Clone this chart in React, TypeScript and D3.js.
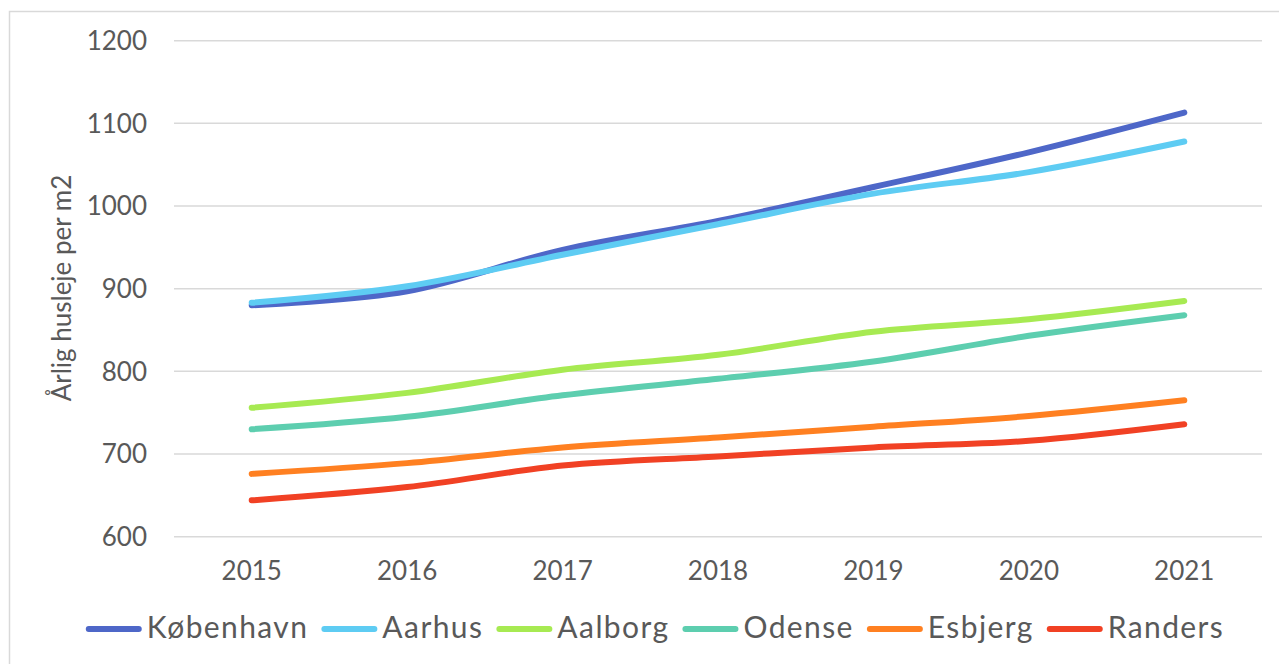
import React from "react";
import * as d3 from "d3";

const years = ["2015", "2016", "2017", "2018", "2019", "2020", "2021"];
const yTicks = [600, 700, 800, 900, 1000, 1100, 1200];

const kobenhavn = [880, 897, 947, 982, 1023, 1065, 1113];
const aarhus = [883, 903, 941, 978, 1015, 1041, 1078];
const aalborg = [756, 774, 802, 820, 848, 863, 885];
const odense = [730, 745, 771, 791, 812, 843, 868];
const esbjerg = [676, 689, 708, 720, 733, 746, 765];
const randers = [644, 660, 686, 697, 708, 716, 736];

const seriesNames = ["København", "Aarhus", "Aalborg", "Odense", "Esbjerg", "Randers"];
const seriesValues = [kobenhavn, aarhus, aalborg, odense, esbjerg, randers];
const seriesColors = ["#4E67C8", "#5ECCF3", "#A7EA52", "#5DCEAF", "#FF8021", "#F14124"];

const W = 1279;
const H = 664;
const plot = { left: 174, right: 1262, top: 40.7, bottom: 536.7 };
const FONT = "Lato, 'Open Sans', sans-serif";
const textColor = "#595959";
const tickSize = 26;
const legendSize = 30;
const legendSpacing = 1.4;

function measure(text: string, size: number, spacing: number): number {
  const c = document.createElement("canvas");
  const ctx = c.getContext("2d")!;
  ctx.font = `${size}px Lato`;
  return ctx.measureText(text).width + spacing * text.length;
}

export default function App() {
  const x = d3.scaleBand<string>().domain(years).range([plot.left, plot.right]);
  const y = d3.scaleLinear().domain([600, 1200]).range([plot.bottom, plot.top]);
  const cx = (yr: string) => (x(yr) as number) + x.bandwidth() / 2;

  const line = d3
    .line<number>()
    .x((_, i) => cx(years[i]))
    .y((v) => y(v))
    .curve(d3.curveCatmullRom.alpha(0));

  const sample = 56;
  const gapLT = 5;
  const gapItem = 13;
  const widths = seriesNames.map((n) => measure(n, legendSize, legendSpacing));
  const total =
    widths.reduce((a, b) => a + b, 0) + seriesNames.length * (sample + gapLT) + (seriesNames.length - 1) * gapItem;
  const legendCenter = 655;
  let lx = legendCenter - total / 2;
  const legendItems = seriesNames.map((n, i) => {
    const item = { name: n, color: seriesColors[i], x: lx };
    lx += sample + gapLT + widths[i] + gapItem;
    return item;
  });
  const legendY = 629;

  return (
    <svg
      width={W}
      height={H}
      style={{ position: "absolute", left: 0, top: 0, background: "#fff" }}
      fontFamily={FONT}
    >
      <rect x={9.5} y={11.5} width={W + 20} height={H + 20} fill="#fff" stroke="#d9d9d9" strokeWidth={1.5} />
      {yTicks.map((t) => (
        <g key={t}>
          <line x1={plot.left} x2={plot.right} y1={y(t)} y2={y(t)} stroke="#d9d9d9" strokeWidth={1.5} />
          <text x={147} y={y(t)} dy="0.36em" textAnchor="end" fontSize={tickSize} fill={textColor}>
            {t}
          </text>
        </g>
      ))}
      {years.map((yr) => (
        <text key={yr} x={cx(yr)} y={580} textAnchor="middle" fontSize={tickSize} fill={textColor}>
          {yr}
        </text>
      ))}
      <text
        transform={`translate(71, ${288}) rotate(-90)`}
        textAnchor="middle"
        fontSize={tickSize}
        fill={textColor}
      >
        Årlig husleje per m2
      </text>
      {seriesValues.map((vals, i) => (
        <path
          key={seriesNames[i]}
          d={line(vals) || ""}
          fill="none"
          stroke={seriesColors[i]}
          strokeWidth={6}
          strokeLinecap="round"
          strokeLinejoin="round"
        />
      ))}
      {legendItems.map((it) => (
        <g key={it.name}>
          <line
            x1={it.x + 3}
            x2={it.x + sample - 3}
            y1={legendY}
            y2={legendY}
            stroke={it.color}
            strokeWidth={6}
            strokeLinecap="round"
          />
          <text
            x={it.x + sample + gapLT}
            y={legendY + 9}
            fontSize={legendSize}
            letterSpacing={legendSpacing}
            fill={textColor}
          >
            {it.name}
          </text>
        </g>
      ))}
    </svg>
  );
}
